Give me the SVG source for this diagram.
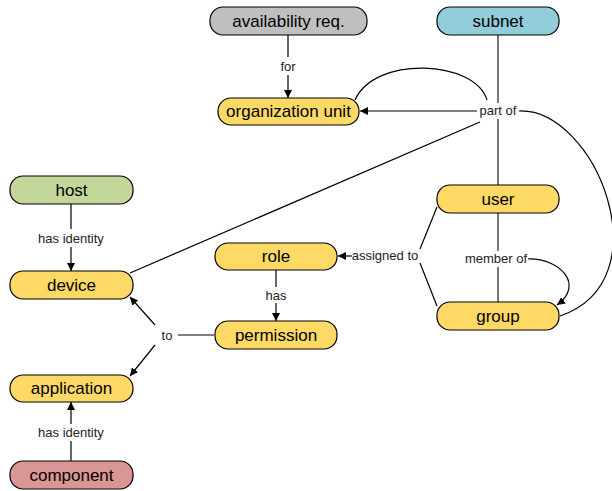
<svg xmlns="http://www.w3.org/2000/svg" width="612" height="491" viewBox="0 0 612 491">
<defs>
<marker id="arr" viewBox="0 0 10 10" refX="10" refY="5" markerWidth="8" markerHeight="8" markerUnits="userSpaceOnUse" orient="auto">
<path d="M0,0 L10,5 L0,10 z" fill="#000"/>
</marker>
<style>
.n{stroke:#000;stroke-width:1.2}
.y{fill:#ffd966}
.t{font-family:"Liberation Sans",Arial,sans-serif;font-size:17px;fill:#000;text-anchor:middle}
.l{font-family:"Liberation Sans",Arial,sans-serif;font-size:13px;fill:#222;text-anchor:middle}
.c{fill:none;stroke:#000;stroke-width:1.2}
.g{fill:none;stroke:#555;stroke-width:1.6}
</style>
</defs>
<rect width="612" height="491" fill="#fff"/>
<g id="connectors">
<line class="c" x1="288" y1="35" x2="288" y2="57"/>
<line class="c" x1="288" y1="75" x2="288" y2="98" marker-end="url(#arr)"/>
<text class="l" x="288" y="71">for</text>
<line class="g" x1="498" y1="35" x2="498" y2="103"/>
<line class="g" x1="498" y1="119" x2="498" y2="185"/>
<line class="c" x1="477" y1="111" x2="360" y2="111" marker-end="url(#arr)"/>
<path class="c" d="M355,100 C375,55 475,60 487,100"/>
<line class="c" x1="480" y1="122" x2="130" y2="273"/>
<path class="c" d="M519,111 C595,108 665,280 560,316"/>
<text class="l" x="498" y="115">part of</text>
<line class="g" x1="498" y1="213" x2="498" y2="251"/>
<line class="g" x1="498" y1="267" x2="498" y2="302"/>
<path class="c" d="M528,259 C560,258 585,285 557,305" marker-end="url(#arr)"/>
<text class="l" x="496" y="263">member of</text>
<line class="c" x1="437" y1="207" x2="420" y2="249"/>
<line class="c" x1="420" y1="263" x2="437" y2="306"/>
<line class="c" x1="352" y1="256" x2="338" y2="256" marker-end="url(#arr)"/>
<text class="l" x="385" y="260">assigned to</text>
<line class="c" x1="276" y1="270" x2="276" y2="287"/>
<line class="c" x1="276" y1="303" x2="276" y2="321" marker-end="url(#arr)"/>
<text class="l" x="276" y="300">has</text>
<line class="c" x1="214" y1="335" x2="178" y2="335"/>
<line class="c" x1="155" y1="325" x2="130" y2="297" marker-end="url(#arr)"/>
<line class="c" x1="155" y1="345" x2="130" y2="376" marker-end="url(#arr)"/>
<text class="l" x="167" y="340">to</text>
<line class="c" x1="71" y1="204" x2="71" y2="229"/>
<line class="c" x1="71" y1="247" x2="71" y2="271" marker-end="url(#arr)"/>
<text class="l" x="71" y="243">has identity</text>
<line class="c" x1="71" y1="461" x2="71" y2="441"/>
<line class="c" x1="71" y1="424" x2="71" y2="402" marker-end="url(#arr)"/>
<text class="l" x="71" y="437">has identity</text>
</g>
<g id="availability"><rect class="n" x="210" y="7" width="157" height="28" rx="13" fill="#bfbfbf"/><text class="t" x="288.5" y="27">availability req.</text></g>
<g id="subnet"><rect class="n" x="437" y="7" width="122" height="28" rx="13" fill="#92cddc"/><text class="t" x="498" y="27">subnet</text></g>
<g id="orgunit"><rect class="n y" x="218" y="98" width="141" height="27" rx="13"/><text class="t" x="288.5" y="117">organization unit</text></g>
<g id="host"><rect class="n" x="10" y="176" width="123" height="28" rx="13" fill="#c4d79b"/><text class="t" x="71.5" y="196">host</text></g>
<g id="device"><rect class="n y" x="10" y="271" width="123" height="28" rx="13"/><text class="t" x="71.5" y="291">device</text></g>
<g id="user"><rect class="n y" x="437" y="185" width="122" height="28" rx="13"/><text class="t" x="498" y="205">user</text></g>
<g id="group"><rect class="n y" x="437" y="302" width="122" height="28" rx="13"/><text class="t" x="498" y="322">group</text></g>
<g id="role"><rect class="n y" x="215" y="243" width="122" height="27" rx="13"/><text class="t" x="276" y="262">role</text></g>
<g id="permission"><rect class="n y" x="215" y="321" width="122" height="28" rx="13"/><text class="t" x="276" y="341">permission</text></g>
<g id="application"><rect class="n y" x="10" y="375" width="123" height="27" rx="13"/><text class="t" x="71.5" y="394">application</text></g>
<g id="component"><rect class="n" x="10" y="461" width="123" height="28" rx="13" fill="#da9694"/><text class="t" x="71.5" y="481">component</text></g>
</svg>
